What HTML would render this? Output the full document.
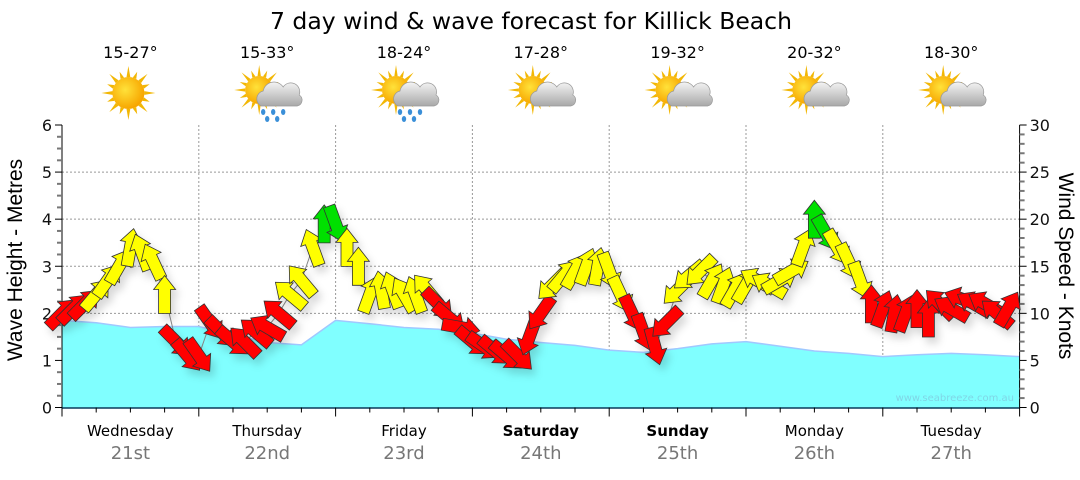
<!DOCTYPE html>
<html><head><meta charset="utf-8">
<style>
body{margin:0;background:#fff;width:1080px;height:475px;overflow:hidden;font-family:"Liberation Sans",sans-serif}
svg text{font-family:"DejaVu Sans","Liberation Sans",sans-serif}
</style></head>
<body>
<svg id="chart" width="1080" height="475" viewBox="0 0 1080 475" xmlns="http://www.w3.org/2000/svg">
<defs>
<filter id="sh" x="-50%" y="-50%" width="200%" height="200%"><feDropShadow dx="4" dy="6" stdDeviation="4" flood-color="#000" flood-opacity="0.15"/></filter>
<radialGradient id="sunG" cx="0.4" cy="0.4" r="0.6"><stop offset="0" stop-color="#ffe23a"/><stop offset="1" stop-color="#f7a600"/></radialGradient>
<linearGradient id="cloudG" x1="0" y1="0" x2="0" y2="1"><stop offset="0" stop-color="#f4f4f4"/><stop offset="1" stop-color="#a8a8a8"/></linearGradient>
</defs>
<text x="531" y="29" font-size="23.5" text-anchor="middle" fill="#000">7 day wind &amp; wave forecast for Killick Beach</text>
<g id="grid"></g>
<g id="wave"></g>
<g id="axes"></g>
<g id="wind"></g>
<g id="topbar"></g>
<text transform="translate(22,260) rotate(-90)" font-size="21" text-anchor="middle" fill="#000" style="font-family:'Liberation Sans',sans-serif">Wave Height - Metres</text>
<text transform="translate(1059,266) rotate(90)" font-size="21" text-anchor="middle" fill="#000" style="font-family:'Liberation Sans',sans-serif">Wind Speed - Knots</text>
<text x="1014" y="401" font-size="10" text-anchor="end" fill="#7fd6e6">www.seabreeze.com.au</text>
</svg>
<script>
const days=["Wednesday","Thursday","Friday","Saturday","Sunday","Monday","Tuesday"];
const dates=["21st","22nd","23rd","24th","25th","26th","27th"];
const boldDays=[false,false,false,true,true,false,false];
const temps=["15-27°","15-33°","18-24°","17-28°","19-32°","20-32°","18-30°"];
const icons=["sun","rain","rain","cloud","cloud","cloud","cloud"];
const waveTicks=[0,1,2,3,4,5,6];
const windTicks=[0,5,10,15,20,25,30];
// wave height (m), every 6 hours
const waveVals=[1.85,1.8,1.7,1.72,1.72,1.55,1.38,1.33,1.85,1.78,1.7,1.66,1.58,1.45,1.38,1.32,1.22,1.17,1.25,1.35,1.4,1.3,1.2,1.15,1.08,1.12,1.15,1.12,1.08];
// wind speed (knots), every 2 hours
const windSpd=[10,10.5,11,12,13.5,15,17,16.5,15.5,12,7,5.5,
5.5,9,8,7,7,8,8.5,10,12,13.5,17,19.5,
19.5,17,15,12,12.5,12.5,12,12,12.5,11,9.5,8.5,
7,6.5,6,5.5,5.5,7.5,10,13,14,14.5,15,15,
14.5,12,10,8,6.5,9,12.5,14,14.5,13.5,13,12.5,
13,13.5,13,13.5,14.5,17,20,18.5,17,15.5,13.5,11,
10.5,10,10,10.5,9.5,11,10.5,11.5,11,11,10,10.5];
// arrow heading (deg, 0 = pointing up), every 2 hours
const windDir=[45,45,45,40,35,30,10,-20,-25,0,135,140,
145,145,135,130,-45,-50,-60,-50,-50,-40,-20,0,
160,0,0,20,-10,-20,-30,-20,-40,135,130,100,
130,125,130,130,135,200,215,225,40,30,20,10,
160,155,155,160,165,225,225,230,225,30,20,30,
30,-60,-60,60,60,20,0,150,150,155,160,0,
20,10,20,0,0,-45,-60,-70,-60,-60,-50,30];

const NS="http://www.w3.org/2000/svg";
const X0=62,X1=1019.6,Y0=407.5,Y1=125;
const HOURS=168;
const xH=h=>X0+(X1-X0)*h/HOURS;
const yM=m=>Y0-(Y0-Y1)*m/6;
const yK=k=>Y0-(Y0-Y1)*k/30;
function mk(tag,attrs,parent){const e=document.createElementNS(NS,tag);for(const k in attrs)e.setAttribute(k,attrs[k]);parent.appendChild(e);return e;}
const gridG=document.getElementById('grid'),axesG=document.getElementById('axes'),waveG=document.getElementById('wave'),windG=document.getElementById('wind'),topG=document.getElementById('topbar');

// grid
waveTicks.forEach(t=>{if(t>0&&t<6){const l=mk('line',{x1:X0,x2:X1,y1:yM(t),y2:yM(t),stroke:'#999','stroke-dasharray':'2,2','stroke-width':1},gridG);

}});
for(let d=1;d<7;d++){const l=mk('line',{x1:xH(d*24),x2:xH(d*24),y1:Y1,y2:Y0,stroke:'#999','stroke-dasharray':'2,2','stroke-width':1},gridG);

}

// wave area
let p='M'+X0+','+Y0;
waveVals.forEach((v,i)=>{p+=' L'+xH(i*6).toFixed(1)+','+yM(v).toFixed(1);});
p+=' L'+X1+','+Y0+' Z';
const wa=mk('path',{d:p,fill:'#80ffff',stroke:'none'},waveG);


let lp='';waveVals.forEach((v,i)=>{lp+=(i?' L':'M')+xH(i*6).toFixed(1)+','+yM(v).toFixed(1);});
const wl=mk('path',{d:lp,fill:'none',stroke:'#a0c8ff','stroke-width':1.5},waveG);



// axes
mk('line',{x1:X0,x2:X0,y1:Y1,y2:Y0+1,stroke:'#000'},axesG);
mk('line',{x1:X1,x2:X1,y1:Y1,y2:Y0+1,stroke:'#000'},axesG);
mk('line',{x1:X0,x2:X1,y1:Y0+0.5,y2:Y0+0.5,stroke:'#0a3a5a','stroke-width':1.5},axesG);
for(let m=0;m<=24;m++){const y=yM(m/4);const major=m%4==0;mk('line',{x1:X0-(major?7:5),x2:X0,y1:y,y2:y,stroke:major?'#000':'#777','stroke-width':major?1:2},axesG);}
waveTicks.forEach(t=>{const tx=mk('text',{x:X0-10,y:yM(t)+6,'font-size':16,'text-anchor':'end',fill:'#111'},axesG);tx.textContent=t;

});
for(let k=0;k<=30;k++){const y=yK(k);const major=k%5==0;mk('line',{x1:X1,x2:X1+(major?7:5),y1:y,y2:y,stroke:major?'#000':'#777','stroke-width':major?1:2},axesG);}
windTicks.forEach(t=>{const tx=mk('text',{x:X1+10,y:yK(t)+6,'font-size':16,'text-anchor':'start',fill:'#111'},axesG);tx.textContent=t;

});
for(let h=0;h<=HOURS;h+=6){const major=h%24==0;mk('line',{x1:xH(h),x2:xH(h),y1:Y0,y2:Y0+(major?9:5),stroke:'#000'},axesG);}
days.forEach((d,i)=>{const cx=xH(i*24+12);
const t=mk('text',{x:cx,y:436,'font-size':15,'text-anchor':'middle',fill:'#000','font-weight':boldDays[i]?'bold':'normal'},axesG);t.textContent=d;


const t2=mk('text',{x:cx,y:459,'font-size':18,'text-anchor':'middle',fill:'#777'},axesG);t2.textContent=dates[i];

});

// weather icons
function sun(g,cx,cy,r){for(let a=0;a<16;a++){const ang=a*Math.PI/8;const L=a%2?r+7:r+11;
mk('polygon',{points:[[cx+Math.cos(ang-0.12)*r,cy+Math.sin(ang-0.12)*r],[cx+Math.cos(ang)*L,cy+Math.sin(ang)*L],[cx+Math.cos(ang+0.12)*r,cy+Math.sin(ang+0.12)*r]].map(q=>q.join(',')).join(' '),fill:'#f2b705'},g);}
mk('circle',{cx:cx,cy:cy,r:r,fill:'url(#sunG)'},g);}
function cloud(g,cx,cy){mk('path',{d:`M${cx-10},${cy+14} a8,8 0 0 1 2,-15 a11,11 0 0 1 20,-4 a9,9 0 0 1 16,8 a6,6 0 0 1 -2,11 Z`,fill:'url(#cloudG)',stroke:'#999','stroke-width':0.7},g);}
temps.forEach((t,i)=>{const cx=xH(i*24+12);
const tx=mk('text',{x:cx,y:58,'font-size':16,'text-anchor':'middle',fill:'#000'},topG);tx.textContent=t;


const g=mk('g',{},topG);


if(icons[i]=='sun'){sun(g,cx-2,93,16);}else{sun(g,cx-8,90,14);cloud(g,cx+4,92);
if(icons[i]=='rain'){[[-4,112],[6,112],[16,112],[0,119],[10,119]].forEach(d=>mk('ellipse',{cx:cx+d[0],cy:d[1],rx:2.2,ry:3,fill:'#3a8fd8'},g));}}});

// wind arrows
let cp='';windSpd.forEach((k,i)=>{cp+=(i?' L':'M')+xH(i*2).toFixed(1)+','+yK(k).toFixed(1);});
const cl=mk('path',{d:cp,fill:'none',stroke:'#888','stroke-width':1},windG);


const ag=mk('g',{filter:'url(#sh)'},windG);
const ARROW='M0,-19 L11,-5 L6,-5 L6,19 L-6,19 L-6,-5 L-11,-5 Z';
windSpd.forEach((k,i)=>{const c=k>=18?'#00e000':(k>=12?'#ffff00':'#ff0000');
const a=mk('path',{d:ARROW,fill:c,stroke:'#333','stroke-width':0.8,transform:`translate(${xH(i*2).toFixed(1)},${yK(k).toFixed(1)}) rotate(${windDir[i]})`},ag);

});
</script>
</body></html>
